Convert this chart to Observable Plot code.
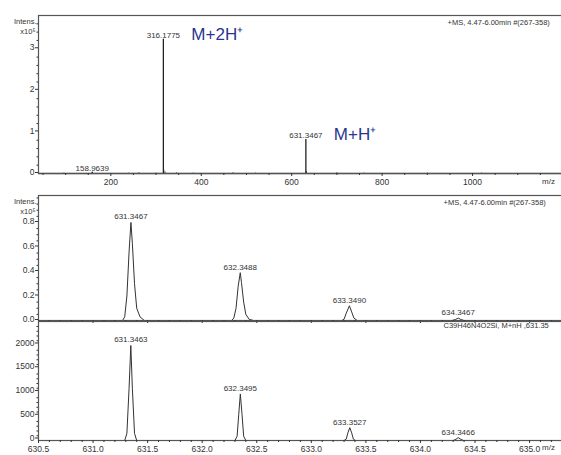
<!DOCTYPE html>
<html>
<head>
<meta charset="utf-8">
<script src="https://cdn.jsdelivr.net/npm/d3@7"></script>
<script src="https://cdn.jsdelivr.net/npm/@observablehq/plot@0.6"></script>
<style>
  html, body { margin: 0; padding: 0; background: #fff; overflow: hidden; }
  #wrap { position: relative; width: 561px; height: 455px; overflow: hidden; background: #fff; }
  .panel { position: absolute; left: 0; width: 600px; }
  .panel svg { max-width: none !important; }
</style>
</head>
<body>
<div id="wrap">
  <div class="panel" id="p1" style="top:0px"></div>
  <div class="panel" id="p2" style="top:190px"></div>
  <div class="panel" id="p3" style="top:316px"></div>
</div>
<script>
// ---------- Panel 1: full scan (sticks), intensity x10^5 ----------
const p1PeakMz   = [158.9639, 316.1775, 631.3467];
const p1PeakInt  = [0.03, 3.23, 0.82];
const p1PeakText = ["158.9639", "316.1775", "631.3467"];
const p1NoiseMz  = [96, 158.96, 240, 262, 300, 317.18, 320, 345, 382, 470, 520, 632.35, 700, 760, 900, 1020];
const p1NoiseInt = [0.01, 0.03, 0.01, 0.02, 0.01, 0.08, 0.04, 0.02, 0.01, 0.02, 0.01, 0.05, 0.02, 0.01, 0.01, 0.01];
const p1XMajor = [200, 400, 600, 800, 1000];
const p1XMinor = [50,100,150,250,300,350,450,500,550,650,700,750,850,900,950,1050,1100,1150];
const p1YMajor = [0, 1, 2, 3];
const p1YMinor = [0.2,0.4,0.6,0.8,1.2,1.4,1.6,1.8,2.2,2.4,2.6,2.8,3.2,3.4,3.6];
const ionLabels = ["M+2H\u207A", "M+H\u207A"];
const ionMz     = [316.1775, 631.3467];
const ionInt    = [3.23, 0.82];

// ---------- Panel 2: measured isotope profile, intensity x10^5 ----------
const p2Mz  = [630.50, 631.27, 631.29, 631.31, 631.33, 631.347, 631.36, 631.38, 631.40, 631.43, 631.47,
               632.27, 632.29, 632.31, 632.33, 632.349, 632.36, 632.38, 632.40, 632.43, 632.47,
               633.28, 633.30, 633.32, 633.349, 633.37, 633.39, 633.42,
               634.29, 634.32, 634.347, 634.37, 634.40, 635.70];
const p2Int = [0, 0, 0.03, 0.20, 0.56, 0.80, 0.63, 0.30, 0.10, 0.03, 0,
               0, 0.02, 0.10, 0.28, 0.39, 0.31, 0.15, 0.05, 0.01, 0,
               0, 0.01, 0.06, 0.12, 0.07, 0.02, 0,
               0, 0.008, 0.02, 0.008, 0, 0];
const p2PeakMz   = [631.3467, 632.3488, 633.3490, 634.3467];
const p2PeakInt  = [0.80, 0.39, 0.12, 0.02];
const p2PeakText = ["631.3467", "632.3488", "633.3490", "634.3467"];
const p2YMajor = [0, 0.2, 0.4, 0.6, 0.8];
const p2YMinor = [0.05,0.1,0.15,0.25,0.3,0.35,0.45,0.5,0.55,0.65,0.7,0.75,0.85,0.9,0.95,1.0];

// ---------- Panel 3: simulated isotope pattern ----------
const p3Mz  = [630.50, 631.29, 631.31, 631.33, 631.346, 631.36, 631.38, 631.40,
               632.30, 632.32, 632.335, 632.3495, 632.365, 632.38, 632.40,
               633.30, 633.32, 633.335, 633.3527, 633.37, 633.385, 633.405,
               634.30, 634.325, 634.3466, 634.37, 634.395, 635.70];
const p3Int = [0, 0, 150, 1100, 2000, 1100, 150, 0,
               0, 90, 550, 980, 550, 90, 0,
               0, 30, 160, 270, 160, 30, 0,
               0, 25, 60, 25, 0, 0];
const p3PeakMz   = [631.3463, 632.3495, 633.3527, 634.3466];
const p3PeakInt  = [2000, 980, 270, 60];
const p3PeakText = ["631.3463", "632.3495", "633.3527", "634.3466"];
const p3YMajor = [0, 500, 1000, 1500, 2000];
const p3YMinor = [100,200,300,400,600,700,800,900,1100,1200,1300,1400,1600,1700,1800,1900,2100,2200,2300,2400];

const zoomXMajor = [630.5, 631.0, 631.5, 632.0, 632.5, 633.0, 633.5, 634.0, 634.5, 635.0];
const zoomXMinor = [630.6,630.7,630.8,630.9,631.1,631.2,631.3,631.4,631.6,631.7,631.8,631.9,
                    632.1,632.2,632.3,632.4,632.6,632.7,632.8,632.9,633.1,633.2,633.3,633.4,
                    633.6,633.7,633.8,633.9,634.1,634.2,634.3,634.4,634.6,634.7,634.8,634.9,
                    635.1,635.2,635.3,635.4];

const headerText  = "+MS, 4.47-6.00min #(267-358)";
const formulaText = "C39H46N4O2Si, M+nH ,631.35";

const FONT = "'Liberation Sans', Arial, sans-serif";
const INK = "#333";
const BLUE = "#2b3590";

const baseStyle = { fontFamily: FONT, fontSize: "8.5px", color: INK, background: "transparent", overflow: "visible", maxWidth: "none" };

function zip(xs, ys, extra) {
  return xs.map((x, i) => ({ x, y: ys[i], t: extra ? extra[i] : null }));
}

function commonAxes(xMaj, xMin, yMaj, yMin, xFmt, yFmt, xPad, yDy) {
  return [
    Plot.axisX({ ticks: xMaj, tickSize: 3, tickPadding: xPad, label: null, stroke: INK, tickFormat: xFmt }),
    Plot.axisX({ ticks: xMin, tickSize: 2, label: null, stroke: INK, tickFormat: () => "" }),
    Plot.axisY({ ticks: yMaj, tickSize: 3, tickPadding: 1, label: null, stroke: INK, tickFormat: yFmt, dy: yDy }),
    Plot.axisY({ ticks: yMin, tickSize: 1.5, label: null, stroke: INK, tickFormat: () => "" })
  ];
}

function intensLabel() {
  return [
    Plot.text(["Intens."], { frameAnchor: "top-left", dx: -2, dy: 3, textAnchor: "end", fontSize: 7.5, fill: INK }),
    Plot.text(["x10\u2075"], { frameAnchor: "top-left", dx: -3, dy: 13, textAnchor: "end", fontSize: 7.5, fill: INK })
  ];
}

// ---- Panel 1 ----
const sticks = zip(p1PeakMz, p1PeakInt, p1PeakText);
const noise = zip(p1NoiseMz, p1NoiseInt);
const ions = zip(ionMz, ionInt, ionLabels);
const plot1 = Plot.plot({
  width: 600, height: 190,
  marginLeft: 38, marginRight: 0, marginTop: 15, marginBottom: 17,
  x: { domain: [40, 1283] },
  y: { domain: [0, 3.8] },
  style: baseStyle,
  marks: [
    Plot.ruleY([0], { stroke: "#555", strokeWidth: 1.5 }),
    Plot.ruleX(noise, { x: "x", y1: 0, y2: "y", stroke: "#555", strokeWidth: 1 }),
    Plot.ruleX(sticks, { x: "x", y1: 0, y2: "y", stroke: "#222", strokeWidth: 1.3 }),
    Plot.text(sticks, { x: "x", y: "y", text: "t", lineAnchor: "bottom", dy: -1, fontSize: 8, fill: INK }),
    Plot.text(ions, { x: "x", y: "y", text: "t", textAnchor: "start", dx: 28, dy: -5, fontSize: 17, fill: BLUE }),
    Plot.frame({ stroke: "#555", strokeWidth: 1.2 }),
    ...commonAxes(p1XMajor, p1XMinor, p1YMajor, p1YMinor, d => String(d), d => String(d), 2, -1),
    ...intensLabel(),
    Plot.text([headerText], { frameAnchor: "top-left", dx: 409, dy: 4, textAnchor: "start", fontSize: 7.5, fill: INK }),
    Plot.text(["m/z"], { frameAnchor: "bottom-left", dx: 510, dy: 10, textAnchor: "middle", fontSize: 8, fill: INK })
  ]
});
document.getElementById("p1").appendChild(plot1);

// ---- Panel 2 ----
const trace2 = zip(p2Mz, p2Int);
const peaks2 = zip(p2PeakMz, p2PeakInt, p2PeakText);
const plot2 = Plot.plot({
  width: 600, height: 135,
  marginLeft: 38, marginRight: 0, marginTop: 5, marginBottom: 5,
  x: { domain: [630.5, 635.65] },
  y: { domain: [0, 1.02] },
  style: baseStyle,
  marks: [
    Plot.line(trace2, { x: "x", y: "y", stroke: "#333", strokeWidth: 1 }),
    Plot.text(peaks2, { x: "x", y: "y", text: "t", lineAnchor: "bottom", dy: -3, fontSize: 8, fill: INK }),
    Plot.frame({ stroke: "#555", strokeWidth: 1.2 }),
    ...commonAxes(zoomXMajor, zoomXMinor, p2YMajor, p2YMinor, () => "", d => d.toFixed(1), 2, -1),
    ...intensLabel(),
    Plot.text([headerText], { frameAnchor: "top-left", dx: 405, dy: 4, textAnchor: "start", fontSize: 7.5, fill: INK })
  ]
});
document.getElementById("p2").appendChild(plot2);

// ---- Panel 3 ----
const trace3 = zip(p3Mz, p3Int);
const peaks3 = zip(p3PeakMz, p3PeakInt, p3PeakText);
const plot3 = Plot.plot({
  width: 600, height: 139,
  marginLeft: 38, marginRight: 0, marginTop: 5, marginBottom: 15,
  x: { domain: [630.5, 635.65] },
  y: { domain: [0, 2505] },
  style: baseStyle,
  marks: [
    Plot.line(trace3, { x: "x", y: "y", stroke: "#333", strokeWidth: 1 }),
    Plot.text(peaks3, { x: "x", y: "y", text: "t", lineAnchor: "bottom", dy: -3, fontSize: 8, fill: INK }),
    Plot.frame({ stroke: "#555", strokeWidth: 1.2 }),
    ...commonAxes(zoomXMajor, zoomXMinor, p3YMajor, p3YMinor, d => d.toFixed(1), d => String(d), 2, -2.5),
    Plot.text([formulaText], { frameAnchor: "top-left", dx: 405, dy: 1, lineAnchor: "top", textAnchor: "start", fontSize: 7.5, fill: INK }),
    Plot.text(["m/z"], { frameAnchor: "bottom-left", dx: 510, dy: 9, textAnchor: "middle", fontSize: 8, fill: INK })
  ]
});
document.getElementById("p3").appendChild(plot3);
</script>
</body>
</html>
